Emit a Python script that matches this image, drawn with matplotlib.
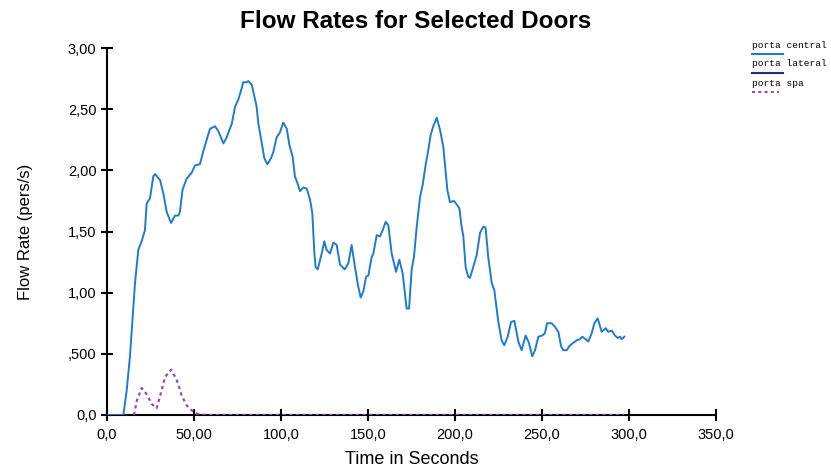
import matplotlib
matplotlib.use("Agg")
import matplotlib.pyplot as plt
from matplotlib.lines import Line2D

# ---- data -------------------------------------------------------------
central_t = [0, 9.4, 11.3, 13.2, 16.1, 18.0, 19.9, 21.8, 22.8, 24.7, 26.6, 27.6, 30.5,
             32.4, 34.3, 36.8, 39.1, 41.0, 41.9, 43.4, 45.7, 48.6, 50.6, 53.4, 55.4,
             57.3, 59.2, 62.1, 64.0, 66.9, 68.8, 71.7, 73.6, 75.5, 77.4, 78.3, 80.3,
             81.2, 83.2, 85.1, 86.0, 87.0, 88.5, 90.4, 92.1, 94.3, 95.6, 97.5, 99.4,
             101.3, 103.3, 104.8, 106.7, 108.0, 109.6, 110.9, 112.8, 114.8, 116.7,
             118.0, 119.2, 119.9, 121.1, 123.4, 124.9, 126.2, 128.2, 130.1, 132.0,
             133.9, 136.6, 138.7, 140.6, 142.5, 144.4, 145.8, 147.3, 148.9, 150.2,
             152.1, 153.1, 155.0, 156.9, 158.4, 160.2, 161.7, 163.6, 166.1, 168.0,
             169.9, 171.3, 172.2, 173.6, 175.1, 176.4, 178.0, 179.9, 181.4, 183.3,
             184.7, 186.0, 187.5, 189.5, 191.4, 193.3, 195.6, 197.1, 199.4, 201.0,
             202.5, 203.8, 204.8, 206.1, 207.6, 208.6, 210.5, 212.5, 214.4, 216.3,
             217.6, 219.1, 221.1, 222.6, 224.0, 224.9, 226.8, 228.3, 230.3, 232.2,
             234.1, 236.4, 238.3, 240.6, 242.5, 244.4, 246.0, 247.9, 250.2, 251.7,
             252.9, 255.6, 257.5, 259.4, 261.0, 262.2, 264.2, 266.1, 268.0, 269.9,
             271.8, 273.1, 275.1, 276.6, 278.6, 280.1, 282.0, 284.3, 286.6, 288.1,
             290.1, 291.9, 293.5, 294.8, 295.8, 297.3]
central_v = [0, 0.0, 0.2, 0.48, 1.08, 1.35, 1.42, 1.51, 1.73, 1.77, 1.95, 1.97, 1.92,
             1.81, 1.66, 1.57, 1.63, 1.63, 1.66, 1.84, 1.93, 1.98, 2.04, 2.05, 2.16,
             2.25, 2.34, 2.36, 2.32, 2.22, 2.27, 2.38, 2.52, 2.58, 2.67, 2.72, 2.72,
             2.73, 2.70, 2.58, 2.52, 2.38, 2.26, 2.10, 2.05, 2.10, 2.15, 2.27, 2.31,
             2.39, 2.34, 2.21, 2.11, 1.95, 1.89, 1.83, 1.86, 1.85, 1.76,
             1.65, 1.32, 1.21, 1.19, 1.32, 1.42, 1.35, 1.32, 1.41, 1.39,
             1.23, 1.19, 1.24, 1.39, 1.21, 1.05, 0.96, 1.01, 1.13, 1.14,
             1.29, 1.32, 1.47, 1.46, 1.51, 1.58, 1.55, 1.32, 1.17, 1.27,
             1.16, 0.98, 0.87, 0.87, 1.19, 1.29, 1.54, 1.78, 1.88, 2.06,
             2.17, 2.29, 2.36, 2.43, 2.33, 2.19, 1.84, 1.74, 1.75, 1.72,
             1.69, 1.54, 1.46, 1.21, 1.13, 1.12, 1.21, 1.31, 1.49, 1.54,
             1.53, 1.29, 1.08, 1.02, 0.86, 0.76, 0.61, 0.57, 0.64, 0.76,
             0.77, 0.60, 0.53, 0.65, 0.59, 0.48, 0.53, 0.64, 0.65, 0.67,
             0.75, 0.75, 0.72, 0.68, 0.56, 0.53, 0.53, 0.57, 0.59, 0.61,
             0.62, 0.64, 0.62, 0.60, 0.67, 0.75, 0.79, 0.68, 0.71, 0.68,
             0.69, 0.65, 0.63, 0.64, 0.62, 0.64]

lateral_t = [0, 297.3]
lateral_v = [0, 0]

spa_t = [15.5, 17.2, 19.9, 22.8, 25.7, 28.5, 31.4, 33.3, 36.8, 40.0, 42.9, 45.7,
         47.7, 50.6, 54.0, 57.0, 297.3]
spa_v = [0, 0.12, 0.22, 0.17, 0.09, 0.055, 0.20, 0.31, 0.37, 0.29, 0.16, 0.08,
         0.05, 0.016, 0.004, 0, 0]

series_names = ["porta central", "porta lateral", "porta spa"]

x_ticks = [0, 50, 100, 150, 200, 250, 300, 350]
x_tick_labels = ["0,0", "50,00", "100,0", "150,0", "200,0", "250,0", "300,0", "350,0"]
y_ticks = [0, 0.5, 1.0, 1.5, 2.0, 2.5, 3.0]
y_tick_labels = ["0,0", ",500", "1,00", "1,50", "2,00", "2,50", "3,00"]

# ---- styles -----------------------------------------------------------
c_central = "#1f7bcc"
c_lateral = "#1c2f6e"
c_spa = "#8a52bf"

plt.rcParams["font.family"] = ["Liberation Sans", "DejaVu Sans"]

fig = plt.figure(figsize=(8.31, 4.67), dpi=100)
W, H = 831, 467
ax = fig.add_axes([107 / W, 1 - 415 / H, (716 - 107) / W, (415 - 48) / H])

ax.plot(lateral_t, lateral_v, color=c_lateral, lw=1.4, zorder=2)
ax.plot(spa_t, spa_v, color=c_spa, lw=1.6, linestyle=(0, (1.5, 1.5)), zorder=3)
ax.plot(central_t, central_v, color=c_central, lw=1.4, zorder=4)

ax.set_xlim(0, 350)
ax.set_ylim(0, 3.0)
ax.set_xticks(x_ticks)
ax.set_xticklabels(x_tick_labels)
ax.set_yticks(y_ticks)
ax.set_yticklabels(y_tick_labels)

for s in ["top", "right"]:
    ax.spines[s].set_visible(False)
for s in ["left", "bottom"]:
    ax.spines[s].set_linewidth(1.5)
    ax.spines[s].set_color("black")
ax.tick_params(direction="inout", length=9, width=1.5, labelsize=10.5)
ax.tick_params(axis="x", pad=5)
ax.tick_params(axis="y", pad=3)

ax.set_xlabel("Time in Seconds", fontsize=13, labelpad=6)
ax.set_ylabel("Flow Rate (pers/s)", fontsize=12, labelpad=25)

fig.text(0.5, 1 - 21 / H, "Flow Rates for Selected Doors", ha="center", va="center",
         fontsize=17.5, fontweight="bold")

# legend: monospace labels with a coloured sample line underneath
leg_colors = [c_central, c_lateral, c_spa]
leg_styles = ["-", "-", (0, (1.5, 1.5))]
leg_text_y = [45, 64, 83]
for name, col, ls, ty in zip(series_names, leg_colors, leg_styles, leg_text_y):
    fig.text(752 / W, 1 - ty / H, name, ha="left", va="center",
             fontsize=6.8, family=["Liberation Mono", "DejaVu Sans Mono"])
    ly = 1 - (ty + 8.5) / H
    x1 = 783 / W if ls == "-" else 779 / W
    fig.add_artist(Line2D([752 / W, x1], [ly, ly], color=col, lw=1.5,
                          linestyle=ls, transform=fig.transFigure))

fig.savefig("out.png", dpi=100)
